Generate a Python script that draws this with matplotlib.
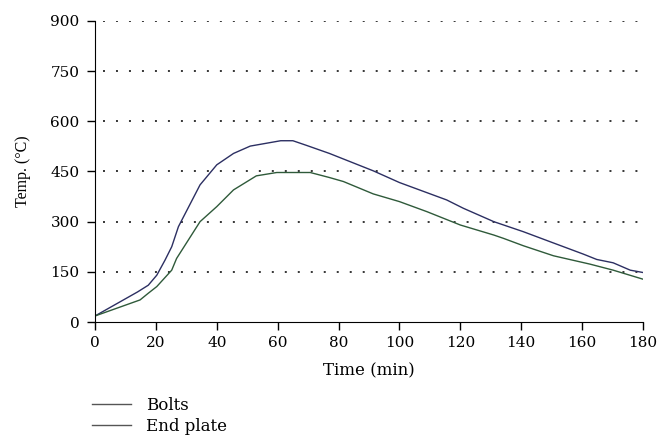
import matplotlib.pyplot as plt
from matplotlib.lines import Line2D

plt.rcParams['font.family'] = ['DejaVu Serif']

# temperature histories read at irregular times (min)
bolts_t = [0, 14, 17.5, 20.3, 23, 25.2, 27.4, 34.5, 40, 45.5, 51, 61, 65, 69.5,
           77, 91.4, 100, 115.5, 121, 131, 140.7, 149.5, 160.4, 164.8, 170.2, 175.8, 180]
bolts_T = [18, 90, 110, 140, 185, 225, 285, 410, 470, 504, 526, 542, 542, 528,
           504, 452, 417, 365, 340, 300, 270, 240, 203, 187, 177, 155, 148]

plate_t = [0, 14.8, 17.5, 20.3, 25.2, 26.8, 34.5, 40, 45.5, 53, 59.7, 70.7, 77,
           81.6, 91.4, 100, 109, 120, 131, 134.2, 140.7, 150.6, 162.6, 170.2, 180]
plate_T = [18, 66, 86, 106, 155, 190, 300, 345, 395, 437, 447, 447, 432,
           420, 383, 360, 330, 290, 260, 250, 228, 198, 173, 155, 128]

x_ticks = list(range(0, 181, 20))
y_ticks = [0, 150, 300, 450, 600, 750, 900]

bolts_color = '#2c2f62'
plate_color = '#2f5a3a'

fig = plt.figure(figsize=(6.63, 4.36), dpi=100)
ax = fig.add_axes([95 / 663, 1 - 322 / 436, 548 / 663, 301 / 436])

ax.plot(bolts_t, bolts_T, color=bolts_color, lw=1.0)
ax.plot(plate_t, plate_T, color=plate_color, lw=1.0)

ax.set_xlim(0, 180)
ax.set_ylim(0, 900)
ax.set_xticks(x_ticks)
ax.set_yticks(y_ticks)
ax.tick_params(labelsize=11, length=6, width=1, direction='out')
ax.tick_params(axis='y', pad=5)
ax.tick_params(axis='x', pad=4)
for t in y_ticks[1:]:
    ax.axhline(t, xmin=8 / 548, color='black', lw=1.1, ls=(0, (1.3, 7.2)), zorder=0)
ax.spines['top'].set_visible(False)
ax.spines['right'].set_visible(False)
ax.spines['left'].set_clip_on(False)
ax.spines['bottom'].set_clip_on(False)

ax.set_xlabel('Time (min)', fontsize=12)
ax.set_ylabel('Temp. (°C)', fontsize=11.5, family='Liberation Serif')
ax.xaxis.set_label_coords(0.5, -(362 - 322) / 301)
ax.yaxis.set_label_coords(-(95 - 31) / 548, 0.5)

handles = [Line2D([], [], color='#555555', lw=1),
           Line2D([], [], color='#555555', lw=1)]
fig.legend(handles, ['Bolts', 'End plate'], loc='upper left',
           bbox_to_anchor=(77 / 663, 1 - 382 / 436), frameon=False,
           fontsize=12, handlelength=2.35, handletextpad=0.9, labelspacing=0.22)

fig.savefig('out.png', dpi=100)
